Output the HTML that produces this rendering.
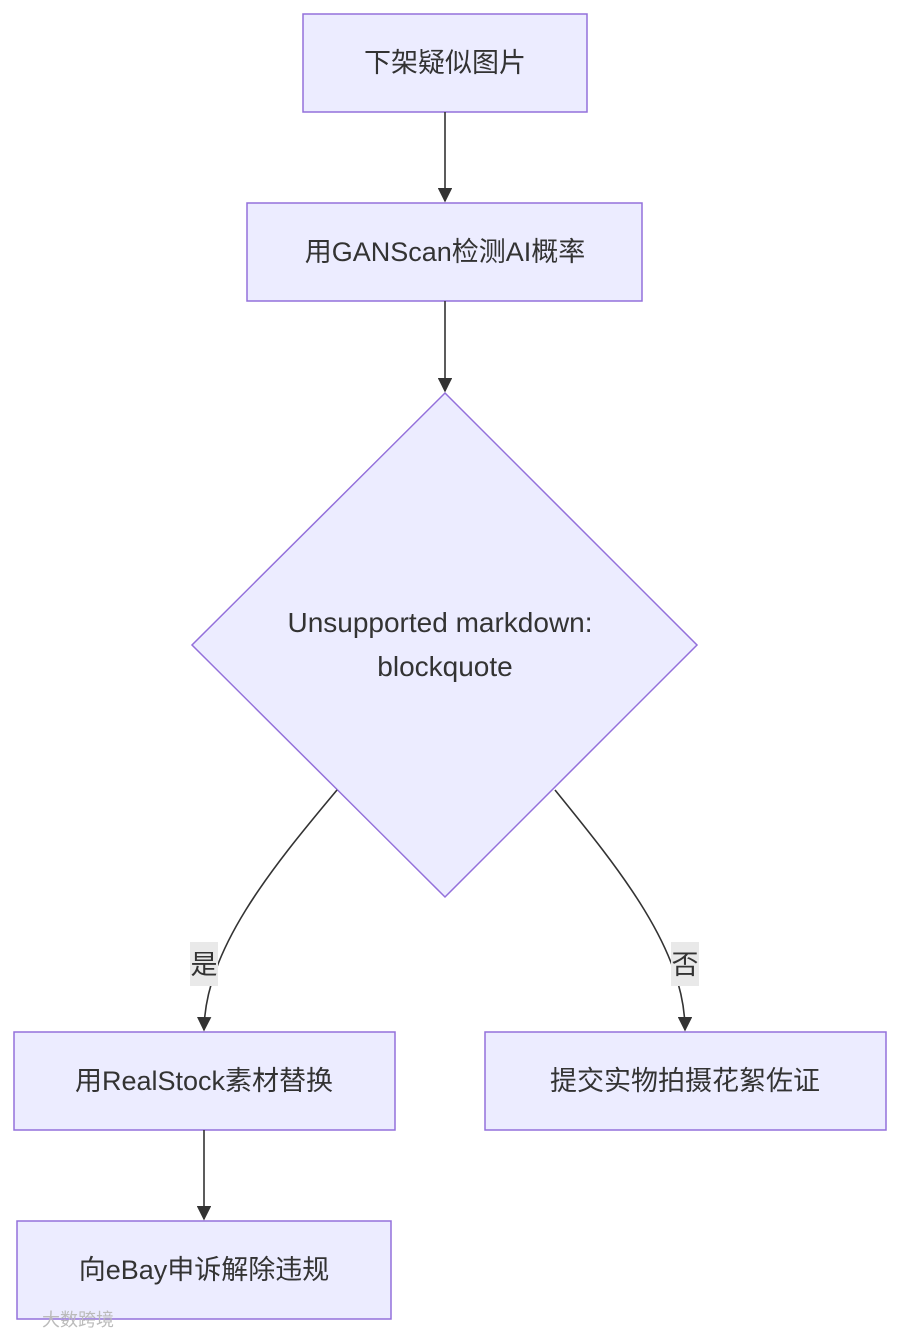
<!DOCTYPE html>
<html><head><meta charset="utf-8"><style>
html,body{margin:0;padding:0;background:#fff;}
body{width:900px;height:1334px;position:relative;overflow:hidden;}
svg{position:absolute;left:0;top:0;}
text{font-family:"Liberation Sans","Noto Sans CJK SC",sans-serif;fill:#333;}
</style></head><body>
<svg width="900" height="1334" viewBox="0 0 900 1334">
<defs><marker id="a" viewBox="0 0 10 10" refX="9" refY="5" markerWidth="9" markerHeight="9" orient="auto"><path d="M0,0L10,5L0,10z" fill="#333"/></marker></defs>
<g fill="#ECECFF" stroke="#9370DB" stroke-width="1.5">
<rect x="303" y="14" width="284" height="98"/>
<rect x="247" y="203" width="395" height="98"/>
<polygon points="445,393 697,645 445,897 192,645"/>
<rect x="14" y="1032" width="381" height="98"/>
<rect x="485" y="1032" width="401" height="98"/>
<rect x="17" y="1221" width="374" height="98"/>
</g>
<g stroke="#333" stroke-width="1.6" fill="none">
<line x1="445" y1="112" x2="445" y2="201" marker-end="url(#a)"/>
<line x1="445" y1="301" x2="445" y2="391" marker-end="url(#a)"/>
<path d="M337,790 C270,870 205,950 204,1030" marker-end="url(#a)"/>
<path d="M555,790 C620,870 685,950 685,1030" marker-end="url(#a)"/>
<line x1="204" y1="1130" x2="204" y2="1219" marker-end="url(#a)"/>
</g>
<rect x="190" y="942" width="28" height="44" fill="#e9e9e9"/>
<rect x="671" y="942" width="28" height="44" fill="#e9e9e9"/>
<g font-size="27" text-anchor="middle">
<text x="445" y="72">下架疑似图片</text>
<text x="445" y="261">用GANScan检测AI概率</text>
<text x="440" y="632" font-size="28">Unsupported markdown:</text>
<text x="445" y="676" font-size="28">blockquote</text>
<text x="204" y="974">是</text>
<text x="685" y="974">否</text>
<text x="204" y="1090">用RealStock素材替换</text>
<text x="685" y="1090">提交实物拍摄花絮佐证</text>
<text x="204" y="1279">向eBay申诉解除违规</text>
</g>
<text x="42" y="1326" font-size="18" style="fill:#bbb">大数跨境</text>
</svg>
</body></html>
